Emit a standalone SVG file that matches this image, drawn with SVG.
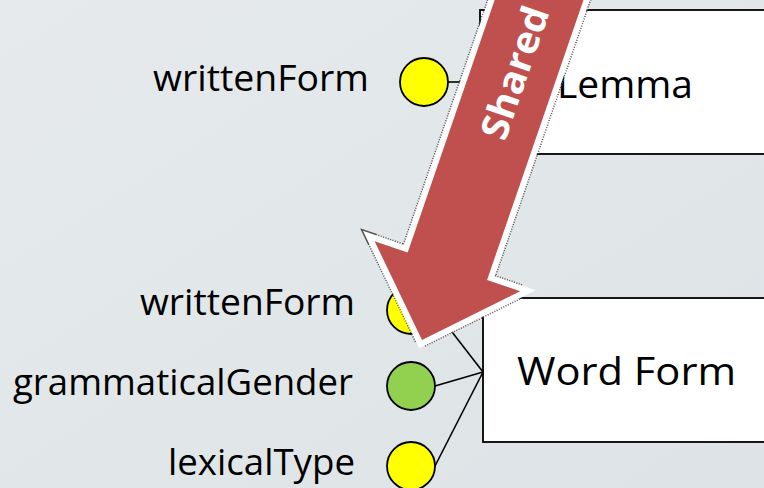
<svg xmlns="http://www.w3.org/2000/svg" width="764" height="488" viewBox="0 0 764 488">
<defs>
<linearGradient id="bg" x1="0" y1="0" x2="1" y2="1">
<stop offset="0" stop-color="#e6eaec"/>
<stop offset="1" stop-color="#dde3e6"/>
</linearGradient>
<style>
.lbl{font-family:"Open Sans","Liberation Sans",sans-serif;font-size:36px;fill:#000}
.box{fill:#fff;stroke:#000;stroke-width:1.8}
.boxt{font-family:"Open Sans","Liberation Sans",sans-serif;font-size:39px;fill:#000}
.dot{stroke:#000;stroke-width:1.8}
.y{fill:#ffff00}
.g{fill:#92d050}
.con{stroke:#000;stroke-width:1.6;fill:none}
</style>
</defs>
<rect width="764" height="488" fill="url(#bg)"/>

<g id="lemma">
<rect class="box" x="480" y="10" width="320" height="144"/>
<text class="boxt" x="557" y="98" textLength="136" lengthAdjust="spacingAndGlyphs">Lemma</text>
</g>
<g id="wordform">
<rect class="box" x="483" y="298" width="320" height="144"/>
<text class="boxt" x="517" y="385" textLength="219" lengthAdjust="spacingAndGlyphs">Word Form</text>
</g>

<g id="connectors">
<line class="con" x1="448" y1="82" x2="480" y2="82"/>
<line class="con" x1="435" y1="310" x2="483" y2="372"/>
<line class="con" x1="435" y1="386" x2="483" y2="372"/>
<line class="con" x1="435" y1="466" x2="483" y2="372"/>
</g>

<g id="lemma-writtenForm">
<text class="lbl" x="153" y="91" textLength="216" lengthAdjust="spacingAndGlyphs">writtenForm</text>
<circle class="dot y" cx="424" cy="82" r="24"/>
</g>
<g id="wf-writtenForm">
<text class="lbl" x="140" y="315" textLength="215" lengthAdjust="spacingAndGlyphs">writtenForm</text>
<circle class="dot y" cx="411" cy="310" r="24"/>
</g>
<g id="wf-grammaticalGender">
<text class="lbl" x="13" y="395" textLength="340" lengthAdjust="spacingAndGlyphs">grammaticalGender</text>
<circle class="dot g" cx="411" cy="386" r="24"/>
</g>
<g id="wf-lexicalType">
<text class="lbl" x="168" y="475" textLength="187" lengthAdjust="spacingAndGlyphs">lexicalType</text>
<circle class="dot y" cx="411" cy="466" r="24"/>
</g>

<g id="shared-arrow" transform="translate(422,340) rotate(19)">
<path d="M0,0 L77,-78 L42,-78 L42,-520 L-42,-520 L-42,-78 L-77,-78 Z" fill="none" stroke="#555" stroke-width="15" stroke-dasharray="1 1.5" stroke-linejoin="miter" stroke-miterlimit="10"/>
<path d="M0,0 L77,-78 L42,-78 L42,-520 L-42,-520 L-42,-78 L-77,-78 Z" fill="none" stroke="#fff" stroke-width="12" stroke-linejoin="miter" stroke-miterlimit="10"/>
<path d="M0,0 L77,-78 L42,-78 L42,-520 L-42,-520 L-42,-78 L-77,-78 Z" fill="#c0504d"/>
<text transform="translate(14,-214) rotate(-90)" font-family="'Open Sans','Liberation Sans',sans-serif" font-weight="bold" font-size="38" fill="#fff" textLength="138" lengthAdjust="spacingAndGlyphs">Shared</text>
</g>
</svg>
